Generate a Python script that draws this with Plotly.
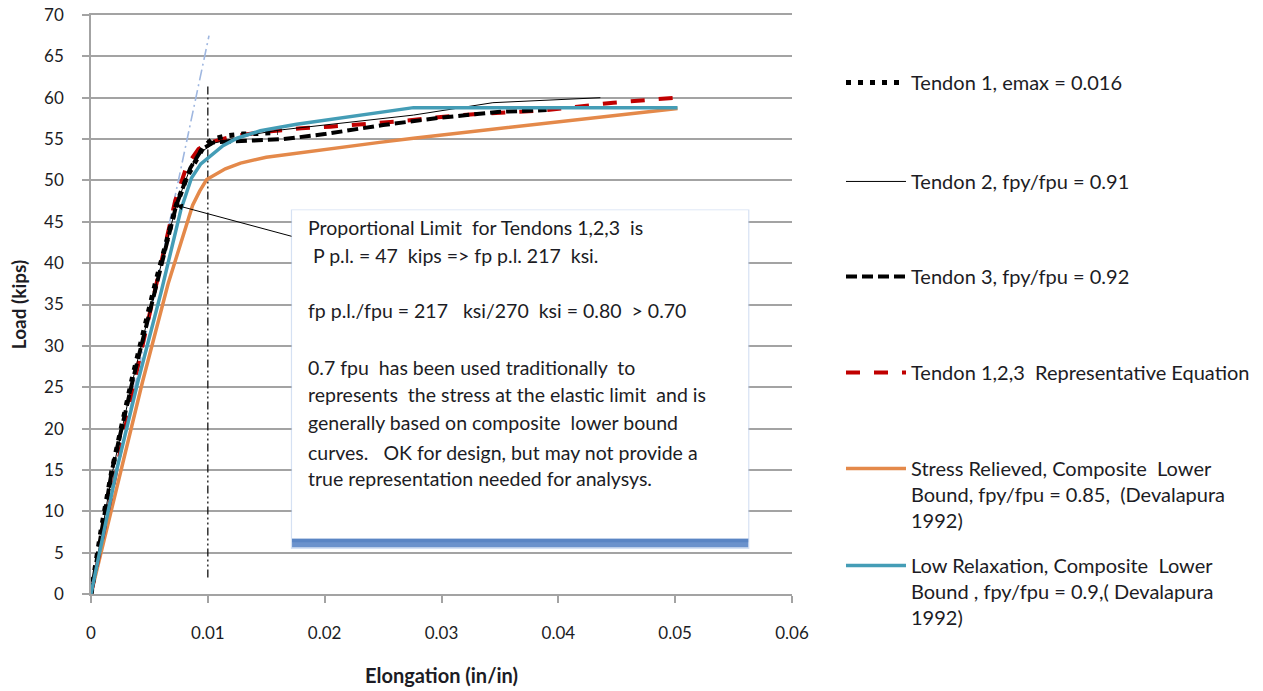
import plotly.graph_objects as go

# ---------------- data ----------------
t1_x = [0, 0.0009, 0.0018, 0.0036, 0.0055, 0.0073, 0.0082, 0.0091, 0.0096, 0.0104, 0.0116, 0.013, 0.0145, 0.016]
t1_y = [0, 8, 15, 26.5, 37.5, 47, 50.4, 52.8, 54.0, 55.0, 55.4, 55.6, 55.7, 55.8]

t2_x = [0, 0.0018, 0.0036, 0.0055, 0.0073, 0.0085, 0.0095, 0.0105, 0.012, 0.014, 0.0162, 0.02, 0.0276, 0.0344, 0.04, 0.0436]
t2_y = [0, 14.5, 26, 37, 47, 51.5, 53.5, 54.5, 55.0, 55.6, 56.1, 56.7, 57.9, 59.4, 59.8, 60.0]

t3_x = [0, 0.0018, 0.0036, 0.0055, 0.0073, 0.0085, 0.0095, 0.0105, 0.013, 0.0165, 0.02, 0.025, 0.03, 0.035, 0.039]
t3_y = [0, 15, 26, 37, 47, 51.5, 53.8, 54.6, 54.8, 55.0, 55.6, 56.7, 57.6, 58.3, 58.5]

rep_x = [0, 0.002, 0.004, 0.006, 0.0072, 0.0082, 0.0092, 0.0102, 0.012, 0.015, 0.018, 0.0205, 0.026, 0.0316, 0.039, 0.0447, 0.05]
rep_y = [0, 14, 27.5, 40, 47.5, 51.8, 53.8, 54.6, 55.3, 55.9, 56.3, 56.5, 57.1, 57.9, 58.5, 59.4, 60.0]

sr_x = [0, 0.0022, 0.0044, 0.0066, 0.0079, 0.0087, 0.0093, 0.0099, 0.0115, 0.0128, 0.015, 0.0176, 0.0205, 0.0247, 0.0276, 0.035, 0.04, 0.045, 0.0502]
sr_y = [0, 13, 25.6, 37.5, 43.5, 47, 48.7, 50.1, 51.4, 52.1, 52.8, 53.3, 53.8, 54.6, 55.1, 56.3, 57.1, 57.9, 58.7]

lr_x = [0, 0.0022, 0.004, 0.006, 0.0077, 0.0086, 0.0094, 0.0102, 0.0113, 0.0125, 0.0145, 0.0176, 0.02, 0.0247, 0.0276, 0.0502]
lr_y = [0, 15, 25.6, 36.5, 46.5, 50.3, 52, 52.9, 54.2, 55.1, 56.0, 56.8, 57.3, 58.2, 58.8, 58.8]

elastic_x = [0, 0.0101]
elastic_y = [0, 67.5]

limit_x = [0.01, 0.01]
limit_y = [2, 61.5]

names = [
    "Tendon 1, emax = 0.016",
    "Tendon 2, fpy/fpu = 0.91",
    "Tendon 3, fpy/fpu = 0.92",
    "Tendon 1,2,3  Representative Equation",
    "Stress Relieved, Composite  Lower<br>Bound, fpy/fpu = 0.85,  (Devalapura<br>1992)",
    "Low Relaxation, Composite  Lower<br>Bound , fpy/fpu = 0.9,( Devalapura<br>1992)",
]

box_lines = [
    "Proportional Limit  for Tendons 1,2,3  is",
    " P p.l. = 47  kips => fp p.l. 217  ksi.",
    "fp p.l./fpu = 217   ksi/270  ksi = 0.80  > 0.70",
    "0.7 fpu  has been used traditionally  to",
    "represents  the stress at the elastic limit  and is",
    "generally based on composite  lower bound",
    "curves.   OK for design, but may not provide a",
    "true representation needed for analysys.",
]
box_line_y = [44.36, 40.96, 34.33, 27.44, 24.18, 20.79, 17.16, 14.02]

x_ticks = [0, 0.01, 0.02, 0.03, 0.04, 0.05, 0.06]
x_tick_text = ["0", "0.01", "0.02", "0.03", "0.04", "0.05", "0.06"]
y_ticks = list(range(0, 75, 5))

FONT = "Lato"
GRID = "#a3a3a3"
TXT = "#1c1c24"

fig = go.Figure()

# reference lines
fig.add_trace(go.Scatter(x=elastic_x, y=elastic_y, mode="lines", showlegend=False, hoverinfo="skip",
                         line=dict(color="#9fb7e0", width=1.6, dash="11px,4px,2px,4px")))
fig.add_trace(go.Scatter(x=limit_x, y=limit_y, mode="lines", showlegend=False, hoverinfo="skip",
                         line=dict(color="#111111", width=1.3, dash="8px,3px,2px,3px,2px,3px")))

# series with separate legends
fig.add_trace(go.Scatter(x=sr_x, y=sr_y, mode="lines", name=names[4], legend="legend5",
                         line=dict(color="#E4894A", width=3.5)))
fig.add_trace(go.Scatter(x=rep_x, y=rep_y, mode="lines", name=names[3], legend="legend4",
                         line=dict(color="#C00000", width=4, dash="14px,14px")))
fig.add_trace(go.Scatter(x=t3_x, y=t3_y, mode="lines", name=names[2], legend="legend3",
                         line=dict(color="#000000", width=4, dash="11px,5px")))
fig.add_trace(go.Scatter(x=t2_x, y=t2_y, mode="lines", name=names[1], legend="legend2",
                         line=dict(color="#000000", width=1)))
fig.add_trace(go.Scatter(x=t1_x, y=t1_y, mode="lines", name=names[0], legend="legend",
                         line=dict(color="#000000", width=5, dash="5px,7px")))
fig.add_trace(go.Scatter(x=lr_x, y=lr_y, mode="lines", name=names[5], legend="legend6",
                         line=dict(color="#449DB6", width=3.5)))

# ---------------- text box ----------------
bx0, bx1, by0, by1 = 0.01721, 0.05625, 6.7, 46.4
shapes = [
    dict(type="rect", xref="x", yref="y", x0=bx0 - 0.0001, x1=bx1 + 0.0001, y0=by0 - 1.25, y1=by1 + 0.1,
         fillcolor="rgba(185,205,235,0.6)", line=dict(width=0), layer="above"),
    dict(type="rect", xref="x", yref="y", x0=bx0, x1=bx1, y0=by0 - 1.05, y1=by0,
         fillcolor="#6b92cc", line=dict(width=0), layer="above"),
    dict(type="rect", xref="x", yref="y", x0=bx0, x1=bx1, y0=by0 - 0.45, y1=by0,
         fillcolor="#5a85c4", line=dict(width=0), layer="above"),
    dict(type="rect", xref="x", yref="y", x0=bx0, x1=bx1, y0=by0, y1=by1,
         fillcolor="white", line=dict(width=0), layer="above"),
]

annotations = []
for txt, yy in zip(box_lines, box_line_y):
    annotations.append(dict(x=0.0184, y=yy, xref="x", yref="y", text=txt.replace("  ", "&nbsp; "),
                            showarrow=False, xanchor="left", yanchor="middle",
                            font=dict(family=FONT, size=19.5, color=TXT)))
annotations.append(dict(x=0.0073, y=47, xref="x", yref="y", ax=0.01729, ay=43.2, axref="x", ayref="y",
                        text="", showarrow=True, arrowhead=2, arrowsize=1.3, arrowwidth=1,
                        arrowcolor="#000000"))

# ---------------- legends ----------------
leg_x = 1.0699
leg_y = [0.9171, 0.7462, 0.5821, 0.4163, 0.2505, 0.0829]
legend_common = dict(xref="paper", yref="paper", xanchor="left", yanchor="top", valign="top",
                     bgcolor="rgba(0,0,0,0)", font=dict(family=FONT, size=20, color=TXT),
                     itemwidth=60)
leg_keys = ["legend", "legend2", "legend3", "legend4", "legend5", "legend6"]
legend_layout = {k: dict(legend_common, x=leg_x, y=yy) for k, yy in zip(leg_keys, leg_y)}

fig.update_layout(
    width=1263, height=691,
    margin=dict(l=91, r=471, t=15, b=97, autoexpand=False),
    paper_bgcolor="white", plot_bgcolor="white",
    font=dict(family=FONT, color=TXT),
    shapes=shapes, annotations=annotations,
    hovermode=False,
    **legend_layout,
)
fig.update_xaxes(range=[0, 0.06], tickvals=x_ticks, ticktext=x_tick_text, automargin=False,
                 showgrid=False, zeroline=False, showline=True, mirror=True, linecolor=GRID, linewidth=1.5,
                 ticks="outside", ticklen=7, tickcolor=GRID, tickwidth=1.5,
                 tickfont=dict(family=FONT, size=17, color=TXT), ticklabelstandoff=16,
                 title=dict(text="Elongation (in/in)", font=dict(family=FONT, size=20, weight="bold", color=TXT),
                            standoff=27))
fig.update_yaxes(range=[0, 70], tickvals=y_ticks, automargin=False, showgrid=True, gridcolor=GRID, gridwidth=1.5,
                 zeroline=False, showline=True, linecolor=GRID, linewidth=1.5,
                 ticks="outside", ticklen=7, tickcolor=GRID, tickwidth=1.5,
                 tickfont=dict(family=FONT, size=17, color=TXT), ticklabelstandoff=15,
                 title=dict(text="Load (kips)", font=dict(family=FONT, size=19, weight="bold", color=TXT),
                            standoff=12))

# remove the default page margin so the figure fills the window exactly
fig.write_html("out.html", config={"displayModeBar": False},
               post_script="document.body.style.margin='0';")
